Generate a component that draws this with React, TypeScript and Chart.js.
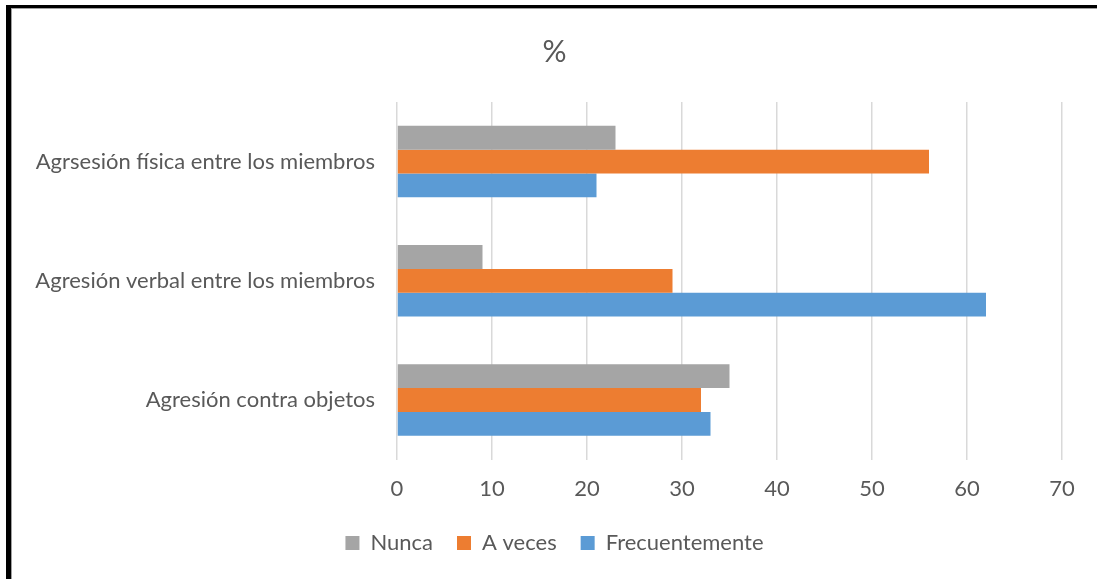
import React, { useEffect, useRef } from "react";
import { Chart, registerables } from "chart.js";

Chart.register(...registerables);

const categories = [
  "Agrsesión física entre los miembros",
  "Agresión verbal entre los miembros",
  "Agresión contra objetos",
];
const nunca = [23, 9, 35];
const aVeces = [56, 29, 32];
const frecuentemente = [21, 62, 33];
const seriesNames = ["Nunca", "A veces", "Frecuentemente"];
const xMin = 0;
const xMax = 70;
const xStep = 10;

const FONT = "Lato, 'Open Sans', sans-serif";
const TEXT = "#595959";

const framePlugin = {
  id: "frame",
  beforeDraw(chart: any) {
    const { ctx, width, height } = chart;
    ctx.save();
    ctx.fillStyle = "#ffffff";
    ctx.fillRect(0, 0, width, height);
    ctx.fillStyle = "#000000";
    ctx.fillRect(6, 5, 5, height - 5);
    ctx.fillRect(6, 5, width - 6, 3);
    ctx.fillStyle = "#a0a0a0";
    ctx.fillRect(11, 8, 1, height - 8);
    ctx.fillRect(11, 8, width - 11, 1);
    ctx.restore();
  },
};

export default function App() {
  const ref = useRef<HTMLCanvasElement | null>(null);
  useEffect(() => {
    if (!ref.current) return;
    const chart = new Chart(ref.current, {
      type: "bar",
      data: {
        labels: categories,
        datasets: [
          { label: seriesNames[0], data: nunca, backgroundColor: "#A5A5A5" },
          { label: seriesNames[1], data: aVeces, backgroundColor: "#ED7D31" },
          { label: seriesNames[2], data: frecuentemente, backgroundColor: "#5B9BD5" },
        ],
      },
      options: {
        indexAxis: "y",
        animation: false,
        responsive: false,
        maintainAspectRatio: false,
        datasets: {
          bar: { categoryPercentage: 0.6, barPercentage: 1.0, borderWidth: 0 },
        },
        layout: { padding: { left: 12, right: 0, top: 8, bottom: 15 } },
        plugins: {
          title: {
            display: true,
            text: "%",
            color: TEXT,
            font: { family: FONT, size: 30, weight: "normal" },
            padding: { top: 26, bottom: 32 },
          },
          legend: {
            display: true,
            position: "bottom",
            labels: {
              color: TEXT,
              font: { family: FONT, size: 22 },
              boxWidth: 14,
              boxHeight: 14,
              padding: 24,
            },
          },
          tooltip: { enabled: false },
        },
        scales: {
          x: {
            min: xMin,
            max: xMax,
            ticks: {
              stepSize: xStep,
              color: TEXT,
              font: { family: FONT, size: 22 },
              padding: 16,
            },
            grid: { color: "#D9D9D9", lineWidth: 1.5, drawTicks: false },
            border: { display: false },
            afterFit: (scale: any) => {
              scale.height = scale.height - 10;
              scale.paddingRight = 35;
            },
          },
          y: {
            ticks: {
              color: TEXT,
              font: { family: FONT, size: 22 },
              padding: 22,
            },
            grid: { display: false, drawTicks: false },
            border: { display: false },
            afterFit: (scale: any) => {
              scale.width = 385;
            },
          },
        },
      },
      plugins: [framePlugin],
    });
    return () => chart.destroy();
  }, []);
  return (
    <div style={{ position: "absolute", left: 0, top: 0, width: 1097, height: 579 }}>
      <canvas ref={ref} width={1097} height={579} style={{ display: "block" }} />
    </div>
  );
}
